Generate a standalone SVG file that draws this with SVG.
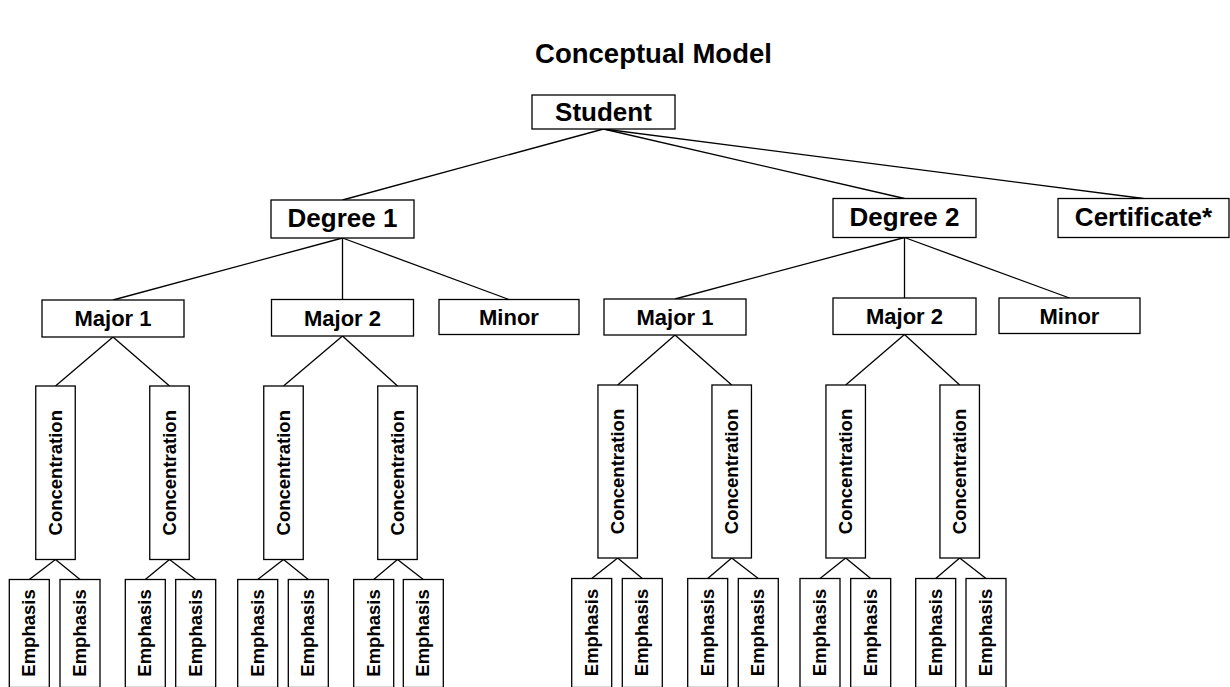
<svg xmlns="http://www.w3.org/2000/svg" width="1230" height="687" viewBox="0 0 1230 687">
<style>
  .box { fill: #fff; stroke: #000; stroke-width: 1.3; }
  .t { font-family: "Liberation Sans", Arial, sans-serif; font-weight: bold; fill: #000; text-anchor: middle; }
  .big { font-size: 26px; }
  .mid { font-size: 22px; }
  .sm { font-size: 18.5px; }
  .title { font-size: 27.5px; }
  #connectors line { stroke: #000; stroke-width: 1.3; }
</style>
<rect width="1230" height="687" fill="#fff"/>
<text class="t title" x="653.5" y="62.5">Conceptual Model</text>

<g id="connectors">
  <!-- Student to level 2 -->
  <line x1="603.5" y1="129" x2="342.5" y2="200"/>
  <line x1="603.5" y1="129" x2="904.5" y2="198.5"/>
  <line x1="603.5" y1="129" x2="1143.5" y2="198.5"/>
  <!-- Degree 1 -->
  <line x1="342.5" y1="238" x2="113" y2="300"/>
  <line x1="342.5" y1="238" x2="342.5" y2="299.5"/>
  <line x1="342.5" y1="238" x2="509" y2="299.5"/>
  <!-- Degree 2 -->
  <line x1="904.5" y1="237.5" x2="675" y2="299"/>
  <line x1="904.5" y1="237.5" x2="904.5" y2="298"/>
  <line x1="904.5" y1="237.5" x2="1069.5" y2="298"/>
  <!-- Majors to concentrations -->
  <line x1="113" y1="337" x2="55.5" y2="386"/>
  <line x1="113" y1="337" x2="169.5" y2="386"/>
  <line x1="342.5" y1="336" x2="283.5" y2="386"/>
  <line x1="342.5" y1="336" x2="397.5" y2="386"/>
  <line x1="675" y1="335" x2="617.7" y2="385"/>
  <line x1="675" y1="335" x2="731.7" y2="385"/>
  <line x1="904.5" y1="334.5" x2="845.7" y2="385"/>
  <line x1="904.5" y1="334.5" x2="959.7" y2="385"/>
  <!-- Concentrations to emphases -->
  <line x1="55.5" y1="559.5" x2="29.3" y2="579.5"/>
  <line x1="55.5" y1="559.5" x2="80" y2="579.5"/>
  <line x1="169.5" y1="559.5" x2="145.3" y2="579.5"/>
  <line x1="169.5" y1="559.5" x2="195.7" y2="579.5"/>
  <line x1="283.5" y1="559.5" x2="257.7" y2="579.5"/>
  <line x1="283.5" y1="559.5" x2="308.3" y2="579.5"/>
  <line x1="397.5" y1="559.5" x2="373.7" y2="579.5"/>
  <line x1="397.5" y1="559.5" x2="423.3" y2="579.5"/>
  <line x1="617.7" y1="558" x2="591.7" y2="578.5"/>
  <line x1="617.7" y1="558" x2="642.3" y2="578.5"/>
  <line x1="731.7" y1="558" x2="707.7" y2="578.5"/>
  <line x1="731.7" y1="558" x2="758.3" y2="578.5"/>
  <line x1="845.7" y1="558" x2="820" y2="578.5"/>
  <line x1="845.7" y1="558" x2="870.7" y2="578.5"/>
  <line x1="959.7" y1="558" x2="935.7" y2="578.5"/>
  <line x1="959.7" y1="558" x2="986" y2="578.5"/>
</g>

<g id="student"><rect class="box" x="532" y="95" width="143" height="34"/><text class="t big" x="603.5" y="120.5">Student</text></g>
<g id="degree1"><rect class="box" x="271" y="200" width="143" height="38"/><text class="t big" x="342.5" y="227">Degree 1</text></g>
<g id="degree2"><rect class="box" x="833" y="198.5" width="143" height="39"/><text class="t big" x="904.5" y="226">Degree 2</text></g>
<g id="certificate"><rect class="box" x="1058" y="198.5" width="171" height="39"/><text class="t big" x="1143.5" y="226">Certificate*</text></g>

<g id="d1-major1"><rect class="box" x="42" y="300" width="142" height="37"/><text class="t mid" x="113" y="326">Major 1</text></g>
<g id="d1-major2"><rect class="box" x="271.5" y="299.5" width="142" height="36.5"/><text class="t mid" x="342.5" y="325.5">Major 2</text></g>
<g id="d1-minor"><rect class="box" x="439" y="299.5" width="140" height="35"/><text class="t mid" x="509" y="325">Minor</text></g>
<g id="d2-major1"><rect class="box" x="604" y="299" width="142" height="36"/><text class="t mid" x="675" y="325">Major 1</text></g>
<g id="d2-major2"><rect class="box" x="833" y="298" width="143" height="36.5"/><text class="t mid" x="904.5" y="324">Major 2</text></g>
<g id="d2-minor"><rect class="box" x="999" y="298" width="141" height="35.5"/><text class="t mid" x="1069.5" y="324">Minor</text></g>

<!-- Concentrations -->
<g id="conc-1"><rect class="box" x="35.75" y="386" width="39.5" height="173.5"/><text class="t sm" transform="translate(55.5,472.75) rotate(-90)" y="6.5">Concentration</text></g>
<g id="conc-2"><rect class="box" x="149.75" y="386" width="39.5" height="173.5"/><text class="t sm" transform="translate(169.5,472.75) rotate(-90)" y="6.5">Concentration</text></g>
<g id="conc-3"><rect class="box" x="263.75" y="386" width="39.5" height="173.5"/><text class="t sm" transform="translate(283.5,472.75) rotate(-90)" y="6.5">Concentration</text></g>
<g id="conc-4"><rect class="box" x="377.75" y="386" width="39.5" height="173.5"/><text class="t sm" transform="translate(397.5,472.75) rotate(-90)" y="6.5">Concentration</text></g>
<g id="conc-5"><rect class="box" x="597.95" y="385" width="39.5" height="173"/><text class="t sm" transform="translate(617.7,471.5) rotate(-90)" y="6.5">Concentration</text></g>
<g id="conc-6"><rect class="box" x="711.95" y="385" width="39.5" height="173"/><text class="t sm" transform="translate(731.7,471.5) rotate(-90)" y="6.5">Concentration</text></g>
<g id="conc-7"><rect class="box" x="825.95" y="385" width="39.5" height="173"/><text class="t sm" transform="translate(845.7,471.5) rotate(-90)" y="6.5">Concentration</text></g>
<g id="conc-8"><rect class="box" x="939.95" y="385" width="39.5" height="173"/><text class="t sm" transform="translate(959.7,471.5) rotate(-90)" y="6.5">Concentration</text></g>

<!-- Emphases -->
<g id="emph-1"><rect class="box" x="9.3" y="579.5" width="40" height="108"/><text class="t sm" transform="translate(29.3,633) rotate(-90)" y="6">Emphasis</text></g>
<g id="emph-2"><rect class="box" x="60" y="579.5" width="40" height="108"/><text class="t sm" transform="translate(80,633) rotate(-90)" y="6">Emphasis</text></g>
<g id="emph-3"><rect class="box" x="125.3" y="579.5" width="40" height="108"/><text class="t sm" transform="translate(145.3,633) rotate(-90)" y="6">Emphasis</text></g>
<g id="emph-4"><rect class="box" x="175.7" y="579.5" width="40" height="108"/><text class="t sm" transform="translate(195.7,633) rotate(-90)" y="6">Emphasis</text></g>
<g id="emph-5"><rect class="box" x="237.7" y="579.5" width="40" height="108"/><text class="t sm" transform="translate(257.7,633) rotate(-90)" y="6">Emphasis</text></g>
<g id="emph-6"><rect class="box" x="288.3" y="579.5" width="40" height="108"/><text class="t sm" transform="translate(308.3,633) rotate(-90)" y="6">Emphasis</text></g>
<g id="emph-7"><rect class="box" x="353.7" y="579.5" width="40" height="108"/><text class="t sm" transform="translate(373.7,633) rotate(-90)" y="6">Emphasis</text></g>
<g id="emph-8"><rect class="box" x="403.3" y="579.5" width="40" height="108"/><text class="t sm" transform="translate(423.3,633) rotate(-90)" y="6">Emphasis</text></g>
<g id="emph-9"><rect class="box" x="571.7" y="578.5" width="40" height="109"/><text class="t sm" transform="translate(591.7,632.5) rotate(-90)" y="6">Emphasis</text></g>
<g id="emph-10"><rect class="box" x="622.3" y="578.5" width="40" height="109"/><text class="t sm" transform="translate(642.3,632.5) rotate(-90)" y="6">Emphasis</text></g>
<g id="emph-11"><rect class="box" x="687.7" y="578.5" width="40" height="109"/><text class="t sm" transform="translate(707.7,632.5) rotate(-90)" y="6">Emphasis</text></g>
<g id="emph-12"><rect class="box" x="738.3" y="578.5" width="40" height="109"/><text class="t sm" transform="translate(758.3,632.5) rotate(-90)" y="6">Emphasis</text></g>
<g id="emph-13"><rect class="box" x="800" y="578.5" width="40" height="109"/><text class="t sm" transform="translate(820,632.5) rotate(-90)" y="6">Emphasis</text></g>
<g id="emph-14"><rect class="box" x="850.7" y="578.5" width="40" height="109"/><text class="t sm" transform="translate(870.7,632.5) rotate(-90)" y="6">Emphasis</text></g>
<g id="emph-15"><rect class="box" x="915.7" y="578.5" width="40" height="109"/><text class="t sm" transform="translate(935.7,632.5) rotate(-90)" y="6">Emphasis</text></g>
<g id="emph-16"><rect class="box" x="966" y="578.5" width="40" height="109"/><text class="t sm" transform="translate(986,632.5) rotate(-90)" y="6">Emphasis</text></g>
</svg>
